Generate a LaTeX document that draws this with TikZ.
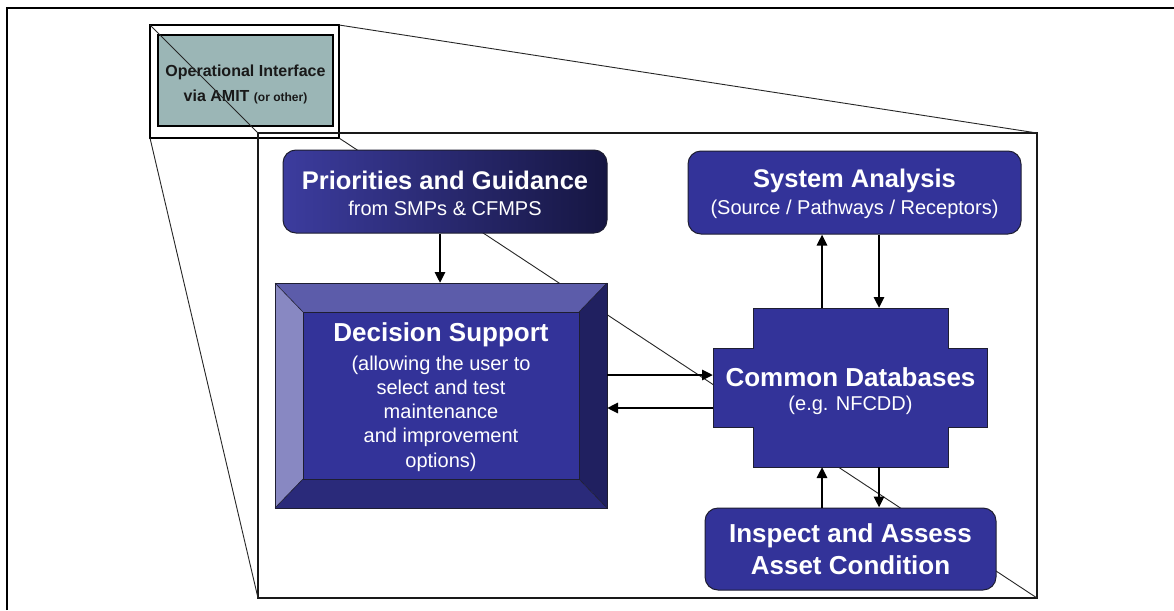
\documentclass[tikz,border=0pt]{standalone}
\usepackage{fontspec}
\setmainfont{Liberation Sans}
\usetikzlibrary{arrows.meta,calc}

\definecolor{navy}{RGB}{51,51,153}
\definecolor{navylight}{RGB}{60,60,158}
\definecolor{navydark}{RGB}{22,22,66}
\definecolor{bevtop}{RGB}{92,92,170}
\definecolor{bevleft}{RGB}{136,136,194}
\definecolor{bevright}{RGB}{32,32,96}
\definecolor{bevbottom}{RGB}{42,42,122}
\definecolor{teal}{RGB}{155,182,182}
\definecolor{edge}{RGB}{30,30,50}

\tikzset{
  frameline/.style={line width=1.2pt, draw=black},
  thinline/.style={line width=0.9pt, draw=black!85},
  panel/.style={draw=edge, line width=1pt, rounded corners=13pt,
    inner sep=0pt, text=white, align=center},
  blockrect/.style={inner sep=0pt, outer sep=0pt},
  ttl/.style={text=white, font=\fontsize{25.5}{30}\selectfont\bfseries, inner sep=0pt},
  subttl/.style={text=white, font=\fontsize{20}{24}\selectfont, inner sep=0pt, align=center},
  flow/.style={line width=2.7pt, -{Triangle[length=11pt,width=10pt]}},
}

\begin{document}
\begin{tikzpicture}[x=1pt,y=-1pt]
\useasboundingbox (0,0) rectangle (1174,610);
\fill[white] (0,0) rectangle (1174,610);

% outer page frame
\draw[frameline] (7,610) -- (7,8) -- (1174,8);

% small interface box with its framed teal panel
\node[blockrect, draw=black, line width=1.1pt, fill=white,
      minimum width=189pt, minimum height=113pt] (sm) at (244.5,81.5) {};
\node[blockrect, draw=black, line width=2pt, fill=teal,
      minimum width=175pt, minimum height=91pt] (op) at (245.5,80.5) {};
\node[inner sep=0pt, align=center, text=black!90,
      font=\fontsize{16}{25}\selectfont\bfseries] (optxt) at (245.5,84.5)
  {Operational Interface\\via AMIT {\fontsize{12}{25}\selectfont(or other)}};

% enlarged view rectangle
\node[blockrect, draw=black!90, line width=1.8pt,
      minimum width=779pt, minimum height=465pt] (big) at (647.5,365.5) {};

% projection lines from the small box to the enlarged view
\draw[thinline] (sm.north west) -- (big.north west);
\draw[thinline] (sm.south west) -- (big.south west);
\draw[thinline] (sm.north east) -- (big.north east);
\draw[thinline] (sm.south east) -- (big.south east);

% Priorities and Guidance
\node[panel, left color=navylight, right color=navydark,
      minimum width=324pt, minimum height=83pt] (prio) at (445,191.5) {};
\node[ttl] (priot) at ([yshift=11.5pt]prio.center) {Priorities and Guidance};
\node[subttl] (prios) at ([yshift=-16.5pt]prio.center) {from SMPs \& CFMPS};

% System Analysis
\node[panel, fill=navy, minimum width=333pt, minimum height=83pt] (sys) at (854.5,192.5) {};
\node[ttl] (syst) at ([yshift=11.5pt]sys.center) {System Analysis};
\node[subttl] (syss) at ([yshift=-16.5pt]sys.center) {(Source / Pathways / Receptors)};

% Decision Support: bevelled block
\node[blockrect, minimum width=332pt, minimum height=225pt] (dec) at (441,395.5) {};
\node[blockrect, minimum width=276pt, minimum height=167pt] (decin) at (441,395.5) {};
\fill[bevtop] (dec.north west) -- (dec.north east) -- (decin.north east) -- (decin.north west) -- cycle;
\fill[bevleft] (dec.north west) -- (decin.north west) -- (decin.south west) -- (dec.south west) -- cycle;
\fill[bevright] (dec.north east) -- (dec.south east) -- (decin.south east) -- (decin.north east) -- cycle;
\fill[bevbottom] (dec.south west) -- (decin.south west) -- (decin.south east) -- (dec.south east) -- cycle;
\fill[navy] (decin.north west) rectangle (decin.south east);
\draw[edge, line width=0.9pt] (dec.north west) rectangle (dec.south east);
\draw[edge, line width=0.9pt] (decin.north west) rectangle (decin.south east);
\draw[edge, line width=0.6pt] (dec.north west) -- (decin.north west)
  (dec.north east) -- (decin.north east)
  (dec.south west) -- (decin.south west)
  (dec.south east) -- (decin.south east);
\node[ttl, font=\fontsize{26}{30}\selectfont\bfseries] (dect) at ([yshift=60.5pt]dec.center) {Decision Support};
\node[subttl, font=\fontsize{20}{24.3}\selectfont] (decs) at ([yshift=-18pt]dec.center)
  {(allowing the user to\\select and test\\maintenance\\and improvement\\options)};

% Common Databases: stepped block
\node[blockrect, minimum width=195pt, minimum height=159pt] (cdbc) at (850.5,387.5) {};
\node[blockrect, minimum width=274pt, minimum height=79pt] (cdbw) at (850,387.5) {};
\draw[edge, line width=0.9pt, fill=navy]
  (cdbc.north west) -- (cdbc.north east) -- (cdbc.north east |- cdbw.north)
  -- (cdbw.north east) -- (cdbw.south east) -- (cdbc.south east |- cdbw.south)
  -- (cdbc.south east) -- (cdbc.south west) -- (cdbc.south west |- cdbw.south)
  -- (cdbw.south west) -- (cdbw.north west) -- (cdbc.north west |- cdbw.north) -- cycle;
\node[ttl, font=\fontsize{26}{30}\selectfont\bfseries] (cdbt) at ([yshift=10.5pt]cdbc.center) {Common Databases};
\node[subttl] (cdbs) at ([yshift=-17.5pt]cdbc.center) {(e.g. NFCDD)};

% Inspect and Assess
\node[panel, fill=navy, minimum width=291pt, minimum height=82pt] (insp) at (850.5,549) {};
\node[ttl, align=center, font=\fontsize{26}{32}\selectfont\bfseries] (inspt) at (insp.center)
  {Inspect and Assess\\Asset Condition};

% flows
\draw[flow] ([xshift=-5pt]prio.south) -- ([xshift=-5pt]prio.south |- dec.north);
\draw[flow] ([yshift=20.5pt]dec.east) -- ([yshift=20.5pt]dec.east -| cdbw.west);
\draw[flow] ([yshift=-12.5pt]dec.east -| cdbw.west) -- ([yshift=-12.5pt]dec.east);
\draw[flow] ([xshift=-28.5pt]cdbc.north) -- ([xshift=-28.5pt]cdbc.north |- sys.south);
\draw[flow] ([xshift=28.5pt]cdbc.north |- sys.south) -- ([xshift=28.5pt]cdbc.north);
\draw[flow] ([xshift=-28.5pt]cdbc.south |- insp.north) -- ([xshift=-28.5pt]cdbc.south);
\draw[flow] ([xshift=28.5pt]cdbc.south) -- ([xshift=28.5pt]cdbc.south |- insp.north);
\end{tikzpicture}
\end{document}
